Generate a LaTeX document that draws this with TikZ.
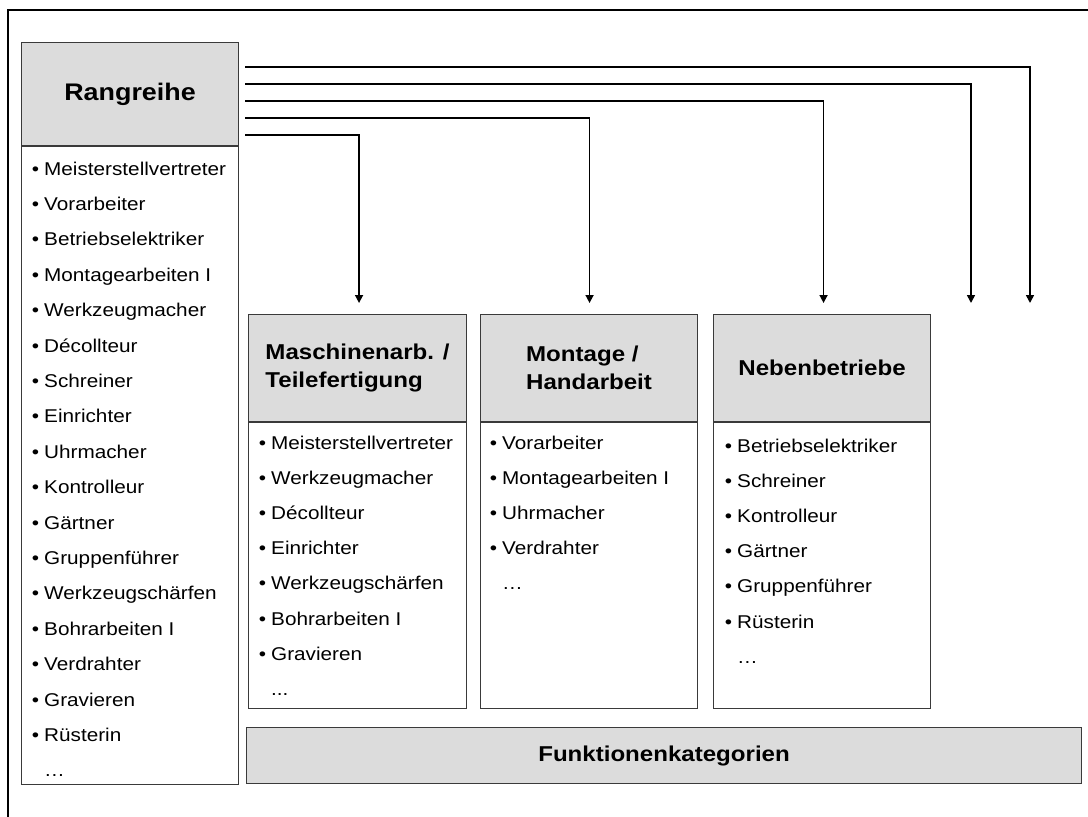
\documentclass[tikz,border=0pt]{standalone}
\usepackage{fontspec}
\setmainfont{Liberation Sans}[FakeStretch=1.12]
\usetikzlibrary{arrows.meta,calc}
\definecolor{headgray}{HTML}{DCDCDC}
\definecolor{edgegray}{HTML}{3A3A3A}
% bullet with a hanging indent, and the same indent without a bullet
\newcommand\itembullet{\makebox[12.25pt][l]{•}}
\newcommand\itemgap{\hspace*{12.25pt}}

\begin{document}
\begin{tikzpicture}[x=1pt,y=-1pt,
  box/.style={draw=edgegray,line width=1.1pt,rectangle,anchor=north west,inner sep=0pt},
  headbox/.style={box,fill=headgray,font=\bfseries\fontsize{21.5}{28}\selectfont,align=left},
  listbox/.style={box,fill=white},
  item/.style={anchor=west,inner sep=0pt,text height=13.5pt,text depth=3.5pt,
               font=\fontsize{18.5}{22}\selectfont},
  conn/.style={line width=1.6pt,-{Triangle[width=8pt,length=8pt]}},
  frameline/.style={line width=2pt}]

\useasboundingbox (0,0) rectangle (1088,817);
\fill[white] (0,0) rectangle (1088,817);

% outer frame (left and top edges)
\draw[frameline] (8,817) -- (8,10) -- (1088,10);

% ranking column
\node[headbox,minimum width=217pt,minimum height=103pt,
      font=\bfseries\fontsize{24}{28}\selectfont] (rg-head) at (21,42) {Rangreihe};
\node[listbox,minimum width=217pt,minimum height=638pt] (rg-list) at (rg-head.south west) {};
\foreach \t [count=\i] in {Meisterstellvertreter,Vorarbeiter,Betriebselektriker,
    Montagearbeiten I,Werkzeugmacher,Décollteur,Schreiner,Einrichter,Uhrmacher,
    Kontrolleur,Gärtner,Gruppenführer,Werkzeugschärfen,Bohrarbeiten I,Verdrahter,
    Gravieren,Rüsterin}
  \node[item] (rg-\i) at (31.75,{170+35.4*(\i-1)}) {\itembullet\t};
\node[item] (rg-18) at (31.75,{170+35.4*17}) {\itemgap…};

% function categories
\node[headbox,minimum width=218pt,minimum height=107pt] (ma-head) at (248,314)
  {Maschinenarb. /\\Teilefertigung};
\node[listbox,minimum width=218pt,minimum height=286pt] (ma-list) at (ma-head.south west) {};
\foreach \t [count=\i] in {Meisterstellvertreter,Werkzeugmacher,Décollteur,Einrichter,
    Werkzeugschärfen,Bohrarbeiten I,Gravieren}
  \node[item] (ma-\i) at (258.75,{444+35.2*(\i-1)}) {\itembullet\t};
\node[item] (ma-8) at (258.75,{444+35.2*7}) {\itemgap...};

\node[headbox,minimum width=217pt,minimum height=107pt] (mo-head) at (480,314)
  {Montage /\\Handarbeit};
\node[listbox,minimum width=217pt,minimum height=286pt] (mo-list) at (mo-head.south west) {};
\foreach \t [count=\i] in {Vorarbeiter,Montagearbeiten I,Uhrmacher,Verdrahter}
  \node[item] (mo-\i) at (489.75,{444+35.2*(\i-1)}) {\itembullet\t};
\node[item] (mo-5) at (489.75,{444+35.2*4}) {\itemgap…};

\node[headbox,minimum width=217pt,minimum height=107pt] (nb-head) at (713,314)
  {Nebenbetriebe};
\node[listbox,minimum width=217pt,minimum height=286pt] (nb-list) at (nb-head.south west) {};
\foreach \t [count=\i] in {Betriebselektriker,Schreiner,Kontrolleur,Gärtner,
    Gruppenführer,Rüsterin}
  \node[item] (nb-\i) at (724.75,{447+35.2*(\i-1)}) {\itembullet\t};
\node[item] (nb-7) at (724.75,{447+35.2*6}) {\itemgap…};

\node[headbox,minimum width=835pt,minimum height=56pt] (fk) at (246,727)
  {Funktionenkategorien};

% connectors from the ranking to the categories
\coordinate (end4) at (971,303);
\coordinate (end5) at (1030,303);
\draw[conn] ($(rg-head.north east)+(6,93)$) -| ($(ma-head.north)+(1.5,-11)$);
\draw[conn] ($(rg-head.north east)+(6,76)$) -| ($(mo-head.north)+(0.5,-11)$);
\draw[conn] ($(rg-head.north east)+(6,59)$) -| ($(nb-head.north)+(1.5,-11)$);
\draw[conn] ($(rg-head.north east)+(6,42)$) -| (end4);
\draw[conn] ($(rg-head.north east)+(6,25)$) -| (end5);
\end{tikzpicture}
\end{document}
